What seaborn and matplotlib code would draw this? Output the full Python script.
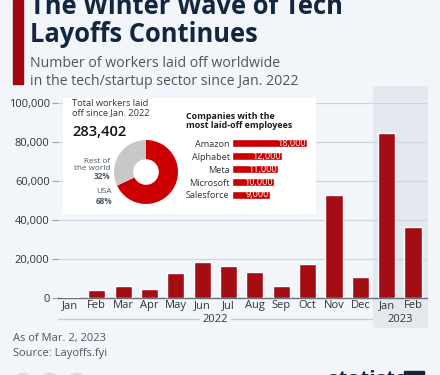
import numpy as np
import pandas as pd
import seaborn as sns
import matplotlib.pyplot as plt
from matplotlib.patches import Rectangle, Circle
from matplotlib.lines import Line2D

# monthly layoffs (tech/startup sector)
months = ["Jan", "Feb", "Mar", "Apr", "May", "Jun", "Jul", "Aug", "Sep", "Oct",
          "Nov", "Dec", "Jan", "Feb"]
years = ["2022"] * 12 + ["2023"] * 2
layoffs = [510, 3800, 5800, 4300, 12700, 18400, 16400, 13200, 6000, 17500,
           52600, 10500, 84900, 36600]

# inset: top companies
companies = ["Amazon", "Alphabet", "Meta", "Microsoft", "Salesforce"]
company_layoffs = [18000, 12000, 11000, 10000, 9000]

# inset: share by region
regions = ["USA", "Rest of the world"]
region_share = [68, 32]
total_layoffs = "283,402"

BG = "#f2f5f9"
SHADE = "#e4e9f0"
RED = "#a50d14"
RED2 = "#cc0000"
NAVY = "#132640"
GREY_TXT = "#4d5660"

sns.set_theme(style="white")
plt.rcParams["font.family"] = ["Open Sans", "DejaVu Sans"]

W, H = 440, 375
fig = plt.figure(figsize=(W / 100, H / 100), dpi=100, facecolor=BG)


def fx(px):
    return px / W


def fy(py):
    return 1 - py / H


def box(x0, y0, x1, y1):
    return [fx(x0), fy(y1), (x1 - x0) / W, (y1 - y0) / H]


# header
fig.patches.append(Rectangle((fx(13), fy(84)), 10 / W, 84 / H, transform=fig.transFigure,
                             color="#a0060f", zorder=1))
fig.text(fx(30), fy(14.5), "The Winter Wave of Tech", fontsize=18.4, fontweight="bold",
         color=NAVY, va="baseline")
fig.text(fx(30), fy(41.5), "Layoffs Continues", fontsize=18.4, fontweight="bold",
         color=NAVY, va="baseline")
fig.text(fx(30), fy(67), "Number of workers laid off worldwide", fontsize=10.2,
         color=GREY_TXT, va="baseline")
fig.text(fx(30), fy(85), "in the tech/startup sector since Jan. 2022", fontsize=10.2,
         color=GREY_TXT, va="baseline")

# main bar chart
df = pd.DataFrame({"period": [f"{m} {y}" for m, y in zip(months, years)],
                   "layoffs": layoffs})
ax = fig.add_axes(box(58, 103.3, 427, 297.7))
ax.set_facecolor("none")
ax.axvspan(11.5, 13.55, ymin=-0.156, ymax=1.09, color=SHADE, clip_on=False, zorder=0, lw=0)
sns.barplot(data=df, x="period", y="layoffs", order=df["period"], color=RED,
            saturation=1, width=0.65, ax=ax, zorder=3)
ax.set_xlim(-0.47, 13.53)
ax.set_ylim(0, 100000)
ax.set_yticks([0, 20000, 40000, 60000, 80000, 100000])
ax.set_yticklabels([f"{v:,}" for v in [0, 20000, 40000, 60000, 80000, 100000]],
                   fontsize=8, color="#333333")
ax.set_xticks(range(len(months)))
ax.set_xticklabels(months, fontsize=8, color="#333333")
ax.tick_params(axis="x", length=0, pad=2)
ax.tick_params(axis="y", length=4, color="#9aa0a8", width=0.8, pad=2, left=True)
ax.grid(axis="y", color="#cfd4da", lw=0.9, zorder=1)
ax.set_axisbelow(True)
for s in ["top", "right", "left"]:
    ax.spines[s].set_visible(False)
ax.spines["bottom"].set_color("#6b7078")
ax.spines["bottom"].set_linewidth(1)
ax.set_xlabel("")
ax.set_ylabel("")

# year labels
fig.text(fx(215), fy(319), "2022", fontsize=8, color="#333333", ha="center", va="center")
fig.text(fx(400), fy(319), "2023", fontsize=8, color="#333333", ha="center", va="center")
for x0, x1 in [(58, 199), (231, 372)]:
    fig.add_artist(Line2D([fx(x0), fx(x1)], [fy(319), fy(319)], color="#c5cad1", lw=1))

# inset white panel
fig.patches.append(Rectangle((fx(63), fy(213)), 252 / W, 115 / H, transform=fig.transFigure,
                             color="white", zorder=2))

fig.text(fx(72), fy(108), "Total workers laid\noff since Jan. 2022", fontsize=6.7,
         color="#333333", va="center", linespacing=0.95, zorder=5)
fig.text(fx(72), fy(132), total_layoffs, fontsize=10.6, fontweight="semibold",
         color="#111111", va="center", zorder=5)

pax = fig.add_axes(box(114, 140, 178, 204))
pax.pie(region_share, colors=[RED2, "#c8c8c8"], startangle=90, counterclock=False,
        wedgeprops=dict(width=0.6, linewidth=0))
pax.set_xlim(-1, 1)
pax.set_ylim(-1, 1)
pax.set_zorder(5)

fig.text(fx(110), fy(165), "Rest of\nthe world", fontsize=5.9, color=GREY_TXT,
         ha="right", va="center", linespacing=1.05, zorder=5)
fig.text(fx(110), fy(176), f"{region_share[1]}%", fontsize=5.9, color=GREY_TXT,
         ha="right", va="center", fontweight="bold", zorder=5)
fig.text(fx(104), fy(191.5), "USA", fontsize=5.9, color=GREY_TXT,
         ha="center", va="center", zorder=5)
fig.text(fx(104), fy(202), f"{region_share[0]}%", fontsize=5.9, color=GREY_TXT,
         ha="center", va="center", fontweight="bold", zorder=5)

fig.text(fx(186), fy(121), "Companies with the\nmost laid-off employees", fontsize=6.4,
         fontweight="bold", color="#1c1c1c", va="center", linespacing=0.95, zorder=5)

cdf = pd.DataFrame({"company": companies, "layoffs": company_layoffs})
cax = fig.add_axes(box(232.3, 136.85, 306.7, 201.45))
cax.set_zorder(5)
cax.set_facecolor("none")
sns.barplot(data=cdf, y="company", x="layoffs", order=companies, color=RED2,
            saturation=1, width=0.62, orient="h", ax=cax)
cax.set_xlim(0, 18000)
cax.set_ylim(4.5, -0.5)
cax.set_xticks([])
cax.tick_params(axis="y", length=0, pad=2)
cax.set_yticks(range(len(companies)))
cax.set_yticklabels(companies, fontsize=6.6, color="#333333")
for s in cax.spines.values():
    s.set_visible(False)
cax.set_xlabel("")
cax.set_ylabel("")
for i, v in enumerate(company_layoffs):
    cax.text(v - 250, i, f"{v:,}", color="white", fontsize=6.6, ha="right", va="center")

# footer
fig.text(fx(13), fy(338), "As of Mar. 2, 2023", fontsize=8, color=GREY_TXT, va="center")
fig.text(fx(13), fy(353.5), "Source: Layoffs.fyi", fontsize=8, color=GREY_TXT, va="center")
for cx in [23, 50, 77]:
    fig.patches.append(Circle((fx(cx), fy(381)), 9 / W, transform=fig.transFigure,
                              color="#d9dde2", zorder=1))
fig.text(fx(328), fy(381), "statista", fontsize=15, fontweight="bold", color=NAVY,
         va="center")
fig.patches.append(Rectangle((fx(404), fy(385)), 20 / W, 14 / H, transform=fig.transFigure,
                             color=NAVY, zorder=1))

fig.savefig("out.png", dpi=100, facecolor=BG)
